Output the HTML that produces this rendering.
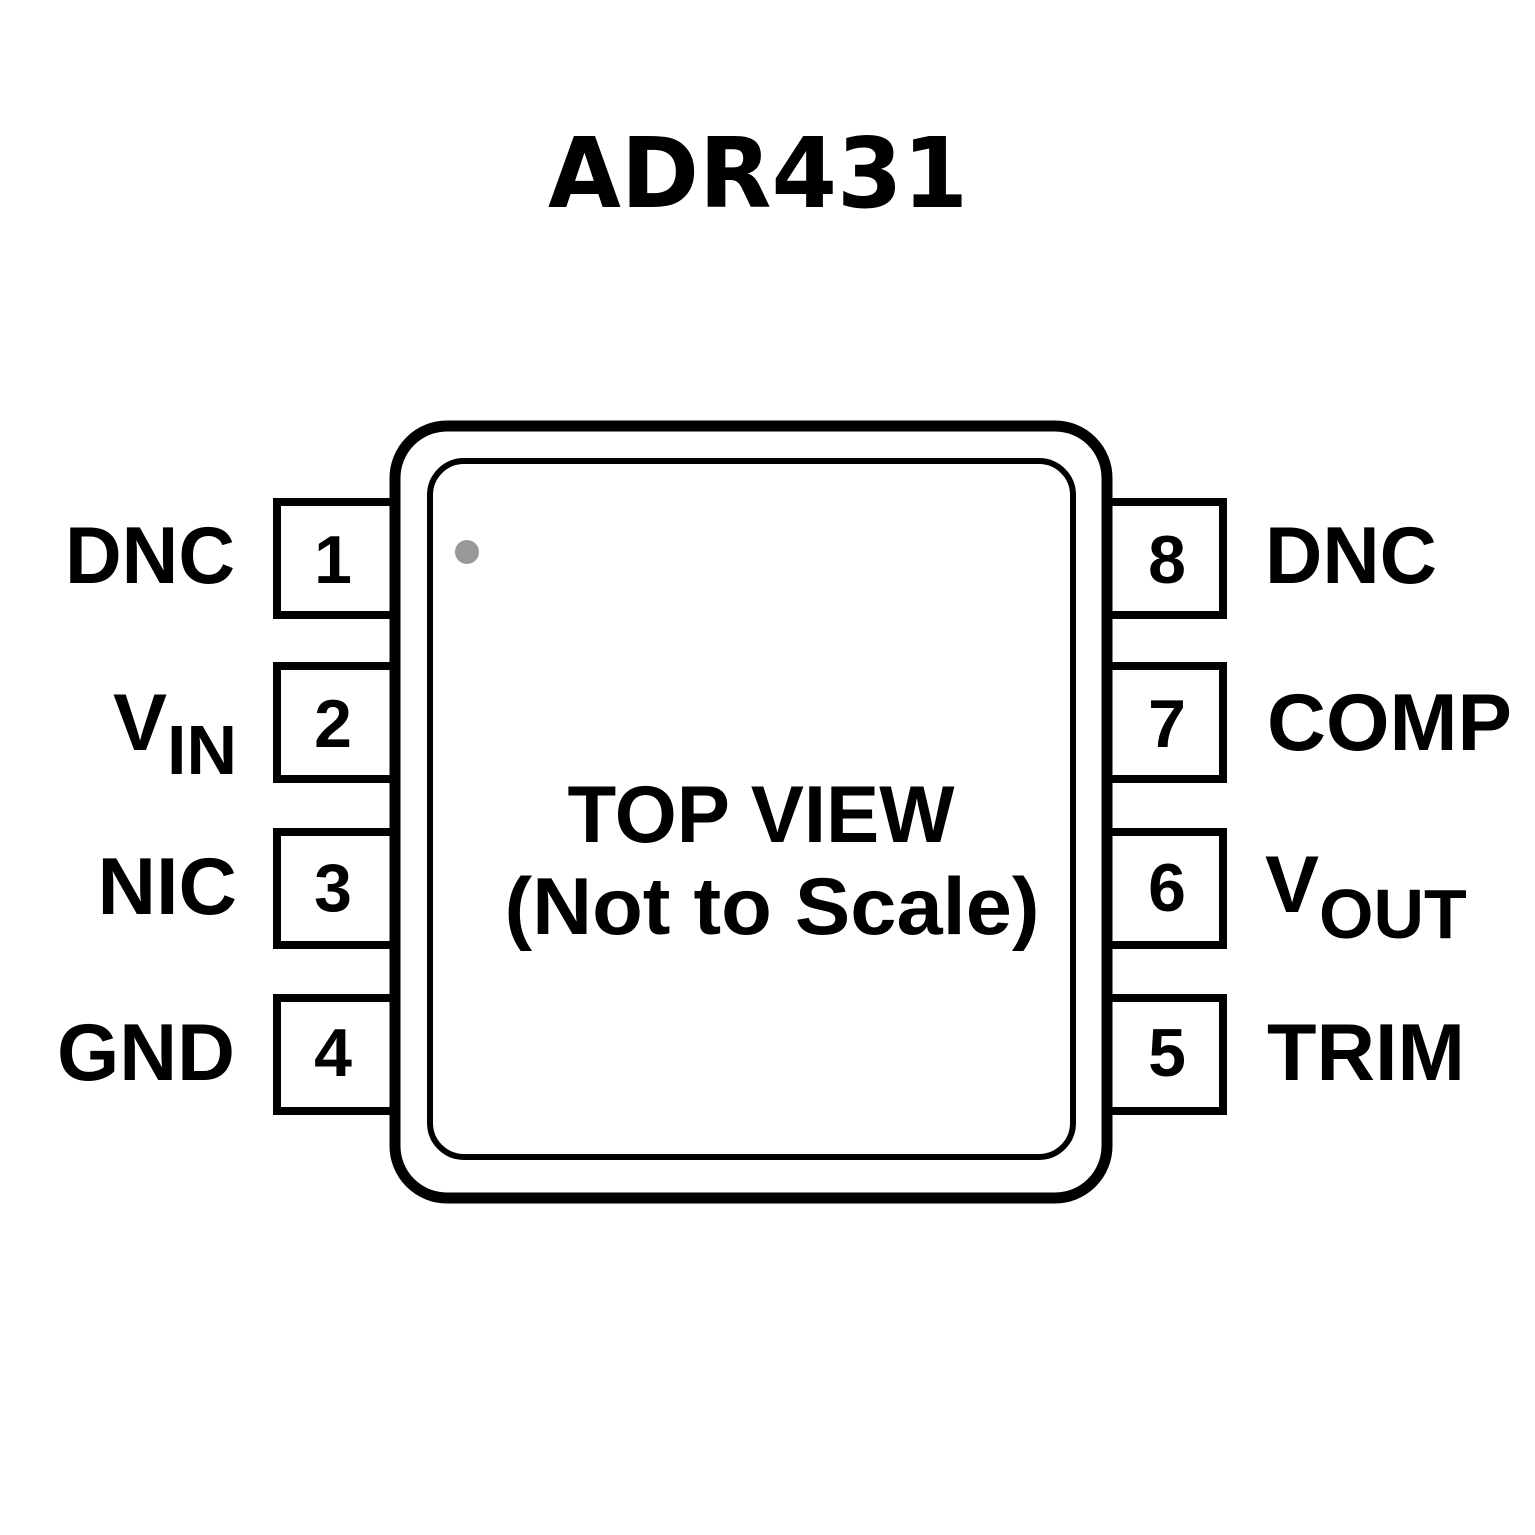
<!DOCTYPE html>
<html><head><style>
html,body{margin:0;padding:0;background:#fff;}
svg{display:block;}
text{font-family:"Liberation Sans",Arial,sans-serif;font-weight:bold;fill:#000;}
</style></head><body>
<svg width="1535" height="1535" viewBox="0 0 1535 1535" xmlns="http://www.w3.org/2000/svg">
<rect width="1535" height="1535" fill="#fff"/>
<text x="758" y="207" font-size="97" text-anchor="middle" textLength="420" lengthAdjust="spacingAndGlyphs" style="font-family:'DejaVu Sans','Liberation Sans',sans-serif">ADR431</text>
<g fill="none" stroke="#000" stroke-width="8">
<rect x="277" y="502" width="118" height="113"/>
<rect x="277" y="666" width="118" height="113"/>
<rect x="277" y="832" width="118" height="113"/>
<rect x="277" y="998" width="118" height="113"/>
<rect x="1107" y="502" width="116" height="113"/>
<rect x="1107" y="666" width="116" height="113"/>
<rect x="1107" y="832" width="116" height="113"/>
<rect x="1107" y="998" width="116" height="113"/>
</g>
<rect x="395" y="426" width="712" height="772" rx="52" fill="#fff" stroke="#000" stroke-width="11"/>
<rect x="430" y="461" width="643" height="696" rx="34" fill="none" stroke="#000" stroke-width="6"/>
<circle cx="467" cy="552" r="12" fill="#999"/>
<g font-size="68" text-anchor="middle">
<text x="333" y="583">1</text>
<text x="333" y="747">2</text>
<text x="333" y="911">3</text>
<text x="333" y="1076">4</text>
<text x="1167" y="583">8</text>
<text x="1167" y="747">7</text>
<text x="1167" y="911">6</text>
<text x="1167" y="1076">5</text>
</g>
<g font-size="81">
<text x="235" y="583" text-anchor="end" textLength="170" lengthAdjust="spacingAndGlyphs">DNC</text>
<text x="113" y="750">V<tspan font-size="70" dy="24">IN</tspan></text>
<text x="237" y="914" text-anchor="end">NIC</text>
<text x="235" y="1080" text-anchor="end" textLength="178" lengthAdjust="spacingAndGlyphs">GND</text>
<text x="1265" y="583" textLength="172" lengthAdjust="spacingAndGlyphs">DNC</text>
<text x="1267" y="750" textLength="245" lengthAdjust="spacingAndGlyphs">COMP</text>
<text x="1265" y="912">V<tspan font-size="70" dy="26">OUT</tspan></text>
<text x="1267" y="1080" textLength="198" lengthAdjust="spacingAndGlyphs">TRIM</text>
</g>
<g font-size="81" text-anchor="middle">
<text x="761" y="842" textLength="387" lengthAdjust="spacingAndGlyphs">TOP VIEW</text>
<text x="772" y="934" textLength="535" lengthAdjust="spacingAndGlyphs">(Not to Scale)</text>
</g>
</svg>
</body></html>
